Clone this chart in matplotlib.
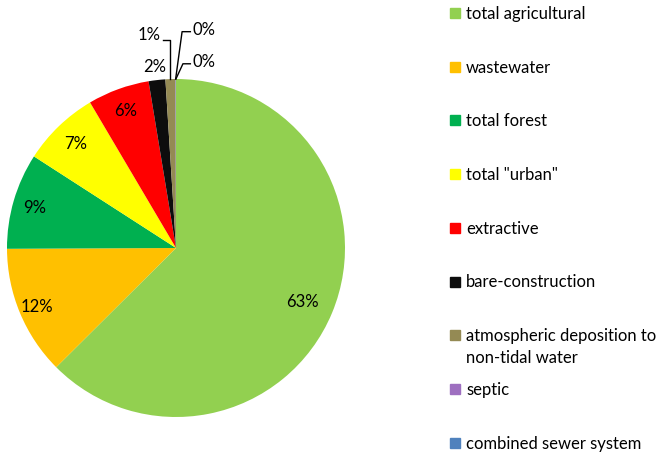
import numpy as np
import matplotlib.pyplot as plt
from matplotlib.patches import Rectangle

plt.rcParams['font.family'] = ['Lato', 'DejaVu Sans']

labels = ['total agricultural', 'wastewater', 'total forest', 'total "urban"',
          'extractive', 'bare-construction',
          'atmospheric deposition to\nnon-tidal water', 'septic',
          'combined sewer system']
values = [62.6, 12.4, 9.2, 7.4, 5.9, 1.6, 0.95, 0.03, 0.02]
colors = ['#92D050', '#FFC000', '#00B050', '#FFFF00', '#FF0000',
          '#0D0D0D', '#948A54', '#9E6FC0', '#4F81BD']

W, H = 663, 456
fig = plt.figure(figsize=(W / 100, H / 100), dpi=100)
fs = 12

# pie geometry in pixels
R = 169
cx, cy = 176, H - 249
lim = 1.35
ax = fig.add_axes([(cx - lim * R) / W, (cy - lim * R) / H,
                   2 * lim * R / W, 2 * lim * R / H])
wedges, _ = ax.pie(values, colors=colors, startangle=90, counterclock=False,
                   wedgeprops=dict(linewidth=0))
ax.set_xlim(-lim, lim)
ax.set_ylim(-lim, lim)
ax.set_aspect('equal')
ax.axis('off')

pct = ['%.0f%%' % v for v in values]

# labels inside the big slices
dists = [0.81, 0.89, 0.87, 0.86, 0.87]
for w, d, t in zip(wedges[:5], dists, pct[:5]):
    a = np.deg2rad((w.theta1 + w.theta2) / 2)
    ax.text(d * np.cos(a), d * np.sin(a), t, ha='center', va='center',
            fontsize=fs)

# small slices: labels outside, some with leader lines
def anchor(w):
    a = np.deg2rad((w.theta1 + w.theta2) / 2)
    return np.cos(a), np.sin(a)

ax.text(-0.124, 1.077, pct[5], ha='center', va='center', fontsize=fs)

x0, y0 = anchor(wedges[6])
ax.plot([x0, x0, -0.075], [y0, 1.23, 1.23], color='black', lw=1)
ax.text(-0.09, 1.266, pct[6], ha='right', va='center', fontsize=fs)

x0, y0 = anchor(wedges[7])
ax.plot([x0, 0.036, 0.085], [y0, 1.28, 1.28], color='black', lw=1)
ax.text(0.095, 1.296, pct[7], ha='left', va='center', fontsize=fs)

x0, y0 = anchor(wedges[8])
ax.plot([x0, 0.041, 0.085], [y0, 1.09, 1.09], color='black', lw=1)
ax.text(0.095, 1.107, pct[8], ha='left', va='center', fontsize=fs)

# legend drawn by hand
top, step = 14, 53.7
for i, (lab, c) in enumerate(zip(labels, colors)):
    y = top + i * step
    fig.add_artist(Rectangle((450 / W, 1 - (y + 5) / H), 10 / W, 10 / H,
                             color=c, transform=fig.transFigure))
    for k, line in enumerate(lab.split('\n')):
        fig.text(466 / W, 1 - (y + k * 22) / H, line, ha='left',
                 va='center', fontsize=fs)

fig.savefig('out.png', dpi=100)
